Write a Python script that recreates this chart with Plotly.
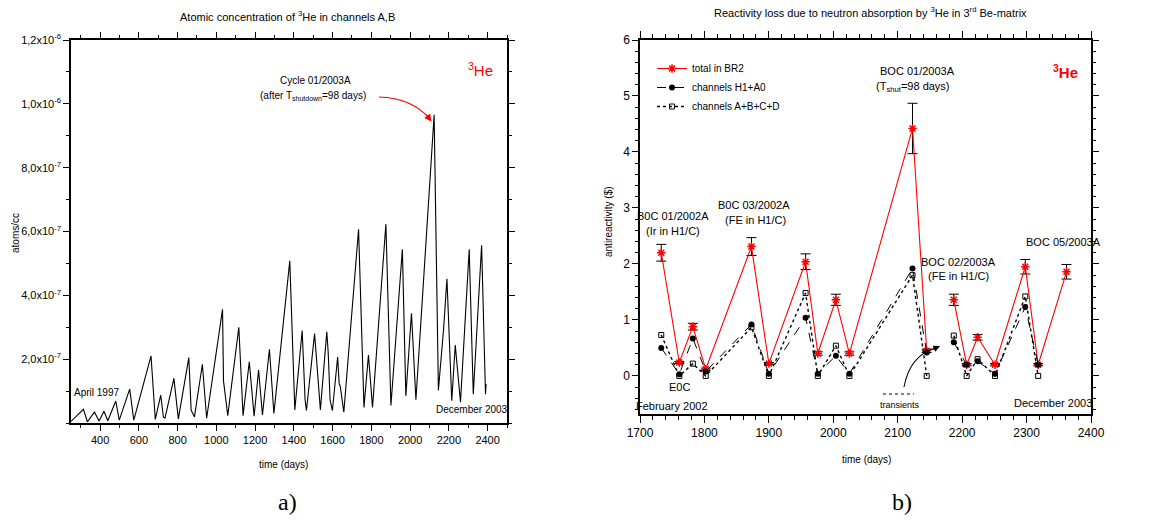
import plotly.graph_objects as go

W, H = 1153, 521

# ---------------- data: panel a) ----------------
days_a = [250, 314, 335, 371, 395, 420, 440, 481, 499, 553, 574, 663, 685, 713, 727, 735,
          781, 804, 858, 870, 887, 928, 950, 1032, 1037, 1059, 1116, 1138, 1170, 1195,
          1218, 1238, 1274, 1297, 1379, 1405, 1443, 1458, 1465, 1507, 1537, 1570, 1577,
          1587, 1599, 1626, 1634, 1639, 1658, 1734, 1762, 1785, 1806, 1875, 1901, 1960,
          1978, 2007, 2030, 2124, 2146, 2173, 2190, 2215, 2233, 2260, 2305, 2326, 2369,
          2389, 2392]
conc_a_e7 = [0.05, 0.43, 0.04, 0.34, 0.06, 0.37, 0.07, 0.69, 0.09, 1.06, 0.09, 2.10, 0.11,
             0.87, 0.18, 0.15, 1.40, 0.13, 2.05, 0.40, 0.19, 1.84, 0.15, 3.56, 1.32, 0.23,
             3.00, 0.23, 1.92, 0.21, 1.66, 0.25, 2.31, 0.30, 5.08, 0.41, 2.90, 0.73, 0.39,
             2.80, 0.41, 2.86, 2.25, 0.72, 0.39, 2.07, 1.22, 1.17, 0.34, 6.07, 0.49, 2.13,
             0.49, 6.23, 0.55, 5.44, 0.85, 3.44, 0.73, 9.66, 1.03, 2.96, 4.52, 0.70, 2.44,
             0.65, 5.44, 0.90, 5.57, 0.90, 1.22]
conc_a = [v * 1e-7 for v in conc_a_e7]

ytick_vals_a = [2e-7, 4e-7, 6e-7, 8e-7, 1.0e-6, 1.2e-6]
ytick_text_a = ["2,0x10<sup>-7</sup>", "4,0x10<sup>-7</sup>", "6,0x10<sup>-7</sup>",
                "8,0x10<sup>-7</sup>", "1,0x10<sup>-6</sup>", "1,2x10<sup>-6</sup>"]

# ---------------- data: panel b) ----------------
days_tot = [1733, 1761, 1782, 1802, 1873, 1900, 1957, 1976, 2004, 2025, 2123, 2145,
            None, 2187, 2207, 2224, 2251, 2298, 2318, 2362]
total_br2 = [2.20, 0.24, 0.88, 0.12, 2.31, 0.22, 2.04, 0.40, 1.36, 0.40, 4.42, 0.45,
             None, 1.36, 0.20, 0.69, 0.20, 1.95, 0.20, 1.86]
total_err = [0.15, 0.02, 0.06, 0.02, 0.16, 0.02, 0.14, 0.03, 0.10, 0.03, 0.45, 0.03,
             None, 0.10, 0.02, 0.05, 0.02, 0.13, 0.02, 0.13]

days_ch = [1733, 1761, 1782, 1802, 1873, 1900, 1957, 1976, 2004, 2025, 2123, 2145,
           None, 2187, 2207, 2224, 2251, 2298, 2318]
h1_a0 = [0.50, 0.03, 0.67, 0.08, 0.92, 0.04, 1.04, 0.04, 0.36, 0.04, 1.92, 0.42,
         None, 0.60, 0.20, 0.26, 0.04, 1.23, 0.20]
abcd = [0.73, 0.00, 0.22, 0.00, 0.87, 0.00, 1.48, 0.00, 0.54, 0.00, 1.80, 0.00,
        None, 0.72, 0.00, 0.30, 0.00, 1.42, 0.00]

FONT = "Liberation Sans, Arial, sans-serif"


def px(x):
    return x / W


def py(y):
    return 1 - y / H


fig = go.Figure()

fig.add_trace(go.Scatter(x=days_a, y=conc_a, mode="lines",
                         line=dict(color="black", width=1.1),
                         showlegend=False, xaxis="x", yaxis="y"))

fig.add_trace(go.Scatter(x=days_tot, y=total_br2, mode="lines+markers", name="total in BR2",
                         line=dict(color="red", width=1.1),
                         marker=dict(symbol="asterisk-open", size=7,
                                     line=dict(color="red", width=1.5)),
                         error_y=dict(type="data", array=total_err, visible=True,
                                      color="black", thickness=1, width=5),
                         xaxis="x2", yaxis="y2"))
fig.add_trace(go.Scatter(x=days_ch, y=h1_a0, mode="lines+markers", name="channels H1+A0",
                         line=dict(color="black", width=1, dash="dash"),
                         marker=dict(symbol="circle", size=6, color="black"),
                         xaxis="x2", yaxis="y2"))
fig.add_trace(go.Scatter(x=days_ch, y=abcd, mode="lines+markers", name="channels A+B+C+D",
                         line=dict(color="black", width=1.4, dash="dot"),
                         marker=dict(symbol="square-open", size=5, color="black",
                                     line=dict(width=1)),
                         xaxis="x2", yaxis="y2"))

axis_common = dict(showline=True, linecolor="black", linewidth=1.5, mirror="ticks",
                   ticks="outside", tickcolor="black", showgrid=False, zeroline=False,
                   automargin=False)

fig.update_layout(
    width=W, height=H,
    margin=dict(l=0, r=0, t=0, b=0),
    paper_bgcolor="white", plot_bgcolor="white",
    font=dict(family=FONT, size=10, color="black"),
    xaxis=dict(domain=[px(71), px(507)], range=[250, 2500], dtick=200, tick0=0,
               ticklen=6, minor=dict(dtick=100, tick0=0, ticklen=3, ticks="outside",
                                     tickcolor="black"),
               tickfont=dict(family=FONT, size=11, color="black"),
               anchor="y", **axis_common),
    yaxis=dict(domain=[py(423), py(40)], range=[0, 1.2e-6], tickmode="array",
               tickvals=ytick_vals_a, ticktext=ytick_text_a, ticklen=6,
               minor=dict(dtick=1e-7, tick0=0, ticklen=3, ticks="outside",
                          tickcolor="black"),
               tickfont=dict(family=FONT, size=11, color="black"),
               anchor="x", **axis_common),
    xaxis2=dict(domain=[px(640), px(1091)], range=[1700, 2400], dtick=100, tick0=0,
                ticklen=7, minor=dict(dtick=20, tick0=0, ticklen=4, ticks="outside",
                                      tickcolor="black"),
                tickfont=dict(family=FONT, size=12, color="black"),
                anchor="y2", **axis_common),
    yaxis2=dict(domain=[py(414), py(40)], range=[-0.68, 6], dtick=1, tick0=0,
                ticklen=6, minor=dict(dtick=0.2, tick0=0, ticklen=3, ticks="outside",
                                      tickcolor="black"),
                tickfont=dict(family=FONT, size=12, color="black"),
                anchor="x2", **axis_common),
    legend=dict(x=px(652), y=py(54), xanchor="left", yanchor="top",
                bgcolor="rgba(0,0,0,0)", font=dict(family=FONT, size=10),
                tracegroupgap=0, itemwidth=30),
)

ann = []


def text(x, y, s, size=10, color="black", angle=0, family=FONT):
    ann.append(dict(x=px(x), y=py(y), xref="paper", yref="paper", text=s, showarrow=False,
                    xanchor="center", yanchor="middle", textangle=angle,
                    font=dict(family=family, size=size, color=color)))


# panel a texts
text(287, 16, "Atomic concentration of <sup>3</sup>He in channels A,B", 11)
text(480, 70, "<sup>3</sup>He", 15, "red")
text(315, 80, "Cycle 01/2003A", 10)
text(313, 96, "(after T<sub>shutdown</sub>=98 days)", 10)
text(97, 392, "April 1997", 10)
text(472, 409, "December 2003", 10)
text(283, 464, "time (days)", 10)
text(15, 233, "atoms/cc", 10, angle=-90)
text(287, 502, "a)", 24, family="Liberation Serif, Times New Roman, serif")

# panel b texts
text(870, 12, "Reactivity loss due to neutron absorption by <sup>3</sup>He in 3<sup>rd</sup> Be-matrix", 11)
text(1065, 71, "<b><sup>3</sup>He</b>", 15, "red")
text(917, 71, "BOC 01/2003A", 11)
text(913, 87, "(T<sub>shut</sub>=98 days)", 11)
text(673, 216, "B0C 01/2002A", 11)
text(673, 231, "(Ir in H1/C)", 11)
text(754, 205, "B0C 03/2002A", 11)
text(755, 220, "(FE in H1/C)", 11)
text(1063, 242, "BOC 05/2003A", 11)
text(958, 262, "BOC 02/2003A", 11)
text(958, 276, "(FE in H1/C)", 11)
text(679, 387, "E0C", 11)
text(672, 406, "February 2002", 11)
text(1053, 403, "December 2003", 11)
text(900, 405, "transients", 9)
text(866, 459, "time (days)", 10)
text(608, 222, "antireactivity ($)", 10, angle=-90)
text(902, 502, "b)", 24, family="Liberation Serif, Times New Roman, serif")

# arrowheads
ann.append(dict(x=px(431.5), y=py(121.5), xref="paper", yref="paper", text="",
                showarrow=True, ax=-6, ay=-8, arrowhead=2, arrowsize=1.2,
                arrowwidth=1.2, arrowcolor="red"))
ann.append(dict(x=px(940), y=py(346), xref="paper", yref="paper", text="",
                showarrow=True, ax=-9, ay=4, arrowhead=2, arrowsize=1.2,
                arrowwidth=1.1, arrowcolor="black"))
fig.update_layout(annotations=ann)


def path_px(pts):
    (x0, y0), (cx, cy), (x1, y1) = pts
    return (f"M {px(x0):.5f},{py(y0):.5f} Q {px(cx):.5f},{py(cy):.5f} "
            f"{px(x1):.5f},{py(y1):.5f}")


fig.add_shape(type="path", xref="paper", yref="paper",
              path=path_px([(379, 97), (412, 98), (430, 119)]),
              line=dict(color="red", width=1.2))
fig.add_shape(type="path", xref="paper", yref="paper",
              path=path_px([(904, 387), (910, 355), (936, 348)]),
              line=dict(color="black", width=1.1))
fig.add_shape(type="line", xref="paper", yref="paper",
              x0=px(883), y0=py(394), x1=px(914), y1=py(394),
              line=dict(color="black", width=1, dash="dot"))

# remove the default 8px page margin so the figure fills the window exactly
fig.write_html("out.html", config={"displayModeBar": False},
               post_script="document.body.style.margin='0';")
